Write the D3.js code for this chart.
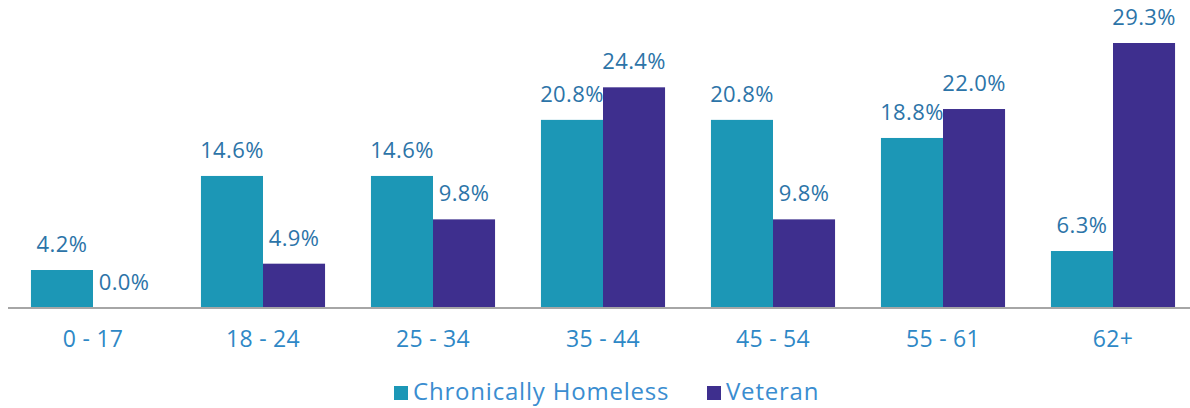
<!DOCTYPE html>
<html><head><meta charset="utf-8">
<script src="https://cdn.jsdelivr.net/npm/d3@7"></script>
<style>body{margin:0;background:#fff;}svg{display:block;font-family:"Open Sans",sans-serif;}</style>
</head><body>
<svg id="c" width="1190" height="408"></svg>
<script>
const categories = ["0 - 17","18 - 24","25 - 34","35 - 44","45 - 54","55 - 61","62+"];
const seriesNames = ["Chronically Homeless","Veteran"];
const chronic = [4.2,14.6,14.6,20.8,20.8,18.8,6.3];
const veteran = [0.0,4.9,9.8,24.4,9.8,22.0,29.3];
const colors = ["#1C97B6","#3E2F8E"];

const svg = d3.select("#c");
const left = 8, right = 1198, baseY = 308;
const x0 = d3.scaleBand().domain(categories).range([left,right]).paddingInner(0.27).paddingOuter(0.135);
const x1 = d3.scaleBand().domain(seriesNames).range([0,x0.bandwidth()]);
const y = d3.scaleLinear().domain([0,29.3]).range([baseY,43]);

const data = categories.map((c,i)=>({cat:c, vals:[chronic[i],veteran[i]]}));

const g = svg.selectAll("g.grp").data(data).join("g").attr("transform",d=>`translate(${x0(d.cat)},0)`);
g.selectAll("rect").data(d=>d.vals.map((v,j)=>({v,j}))).join("rect")
  .attr("x",d=>x1(seriesNames[d.j])).attr("width",x1.bandwidth())
  .attr("y",d=>y(d.v)).attr("height",d=>baseY-y(d.v)).attr("fill",d=>colors[d.j]);
g.selectAll("text").data(d=>d.vals.map((v,j)=>({v,j}))).join("text")
  .attr("x",d=>x1(seriesNames[d.j])+x1.bandwidth()/2).attr("y",d=>y(d.v)-18)
  .attr("text-anchor","middle").attr("font-size",22).attr("letter-spacing",0.4).attr("fill","#2C74A8")
  .text(d=>d.v.toFixed(1)+"%");

const axis = svg.append("g").attr("transform",`translate(0,${baseY})`)
  .call(d3.axisBottom(x0).tickSize(0).tickPadding(0));
axis.select(".domain").attr("stroke","#a6a6a6").attr("stroke-width",2).attr("d",`M${left},0H1190`);
axis.selectAll(".tick text").attr("font-size",23).attr("letter-spacing",0.3).attr("fill","#2E88C6").attr("font-family","Open Sans, sans-serif").attr("dy",0).attr("y",39);

const leg = svg.append("g");
const legItems = [{name:seriesNames[0],x:394},{name:seriesNames[1],x:707}];
legItems.forEach((it,i)=>{
  leg.append("rect").attr("x",it.x).attr("y",386).attr("width",14).attr("height",14).attr("fill",colors[i]);
  leg.append("text").attr("x",it.x+19).attr("y",400).attr("font-size",24).attr("letter-spacing",0.8).attr("fill","#3A8DD0").text(it.name);
});
</script>
</body></html>
